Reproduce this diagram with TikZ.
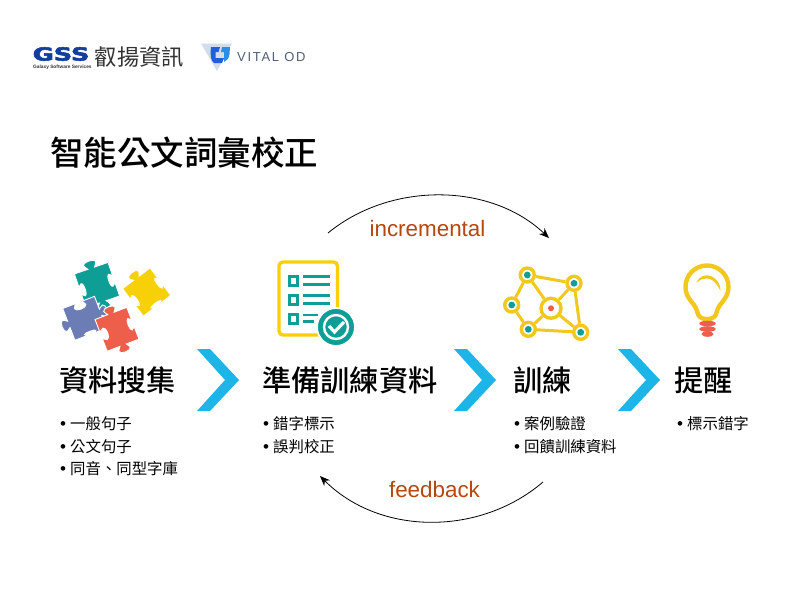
\documentclass[tikz,border=0pt]{standalone}
\usepackage{fontspec}
\setmainfont{Liberation Sans}
\newfontfamily\cjk{Noto Sans CJK TC}
\newfontfamily\cjkm{Noto Sans CJK TC Medium}
\newfontfamily\gssfont[FakeBold=3]{DejaVu Sans Bold}
\usetikzlibrary{arrows.meta}
\definecolor{pteal}{HTML}{0F9E96}
\definecolor{pyel}{HTML}{F7D008}
\definecolor{pblue}{HTML}{6C7DB5}
\definecolor{pred}{HTML}{EE5F4B}
\definecolor{iyel}{HTML}{F2C81E}
\definecolor{chev}{HTML}{1DB4E8}
\definecolor{lab}{HTML}{B5480F}
\definecolor{gssb}{HTML}{123F9C}
\definecolor{vgray}{HTML}{4F5F78}
\definecolor{vtri}{HTML}{D3DCEA}
\definecolor{vblue}{HTML}{1F5FE0}
\definecolor{vcyan}{HTML}{2B8FE8}
\newcommand{\pz}[9]{%
 \fill[#4,draw=white,line width=.9pt,shift={(#1,#2)},rotate=#3,scale=#9]
 (-1,-1) -- (-.2,-1) .. controls (-.2,{-1-.12*#5}) and (-.36,{-1-.18*#5}) .. (-.36,{-1-.36*#5}) .. controls (-.36,{-1-.52*#5}) and (-.18,{-1-.6*#5}) .. (0,{-1-.6*#5}) .. controls (.18,{-1-.6*#5}) and (.36,{-1-.52*#5}) .. (.36,{-1-.36*#5}) .. controls (.36,{-1-.18*#5}) and (.2,{-1-.12*#5}) .. (.2,-1) -- (1,-1)
 -- (1,-.2) .. controls ({1+.12*#6},-.2) and ({1+.18*#6},-.36) .. ({1+.36*#6},-.36) .. controls ({1+.52*#6},-.36) and ({1+.6*#6},-.18) .. ({1+.6*#6},0) .. controls ({1+.6*#6},.18) and ({1+.52*#6},.36) .. ({1+.36*#6},.36) .. controls ({1+.18*#6},.36) and ({1+.12*#6},.2) .. (1,.2) -- (1,1)
 -- (.2,1) .. controls (.2,{1+.12*#7}) and (.36,{1+.18*#7}) .. (.36,{1+.36*#7}) .. controls (.36,{1+.52*#7}) and (.18,{1+.6*#7}) .. (0,{1+.6*#7}) .. controls (-.18,{1+.6*#7}) and (-.36,{1+.52*#7}) .. (-.36,{1+.36*#7}) .. controls (-.36,{1+.18*#7}) and (-.2,{1+.12*#7}) .. (-.2,1) -- (-1,1)
 -- (-1,.2) .. controls ({-1-.12*#8},.2) and ({-1-.18*#8},.36) .. ({-1-.36*#8},.36) .. controls ({-1-.52*#8},.36) and ({-1-.6*#8},.18) .. ({-1-.6*#8},0) .. controls ({-1-.6*#8},-.18) and ({-1-.52*#8},-.36) .. ({-1-.36*#8},-.36) .. controls ({-1-.18*#8},-.36) and ({-1-.12*#8},-.2) .. (-1,-.2) -- cycle;}
\newcommand{\chv}[1]{\fill[chev,shift={(#1,0)}] (197,349) -- (210,349) -- (239,380) -- (210,411) -- (197,411) -- (225,380) -- cycle;}
\newcommand{\bul}{\makebox[11pt][l]{\rmfamily\fontsize{17}{15}\selectfont\hspace{.8pt}\textbullet}}
\tikzset{
 x=1pt,y=-1pt,
 titlet/.style={anchor=west,inner sep=0pt,font=\cjkm\fontsize{33.5}{34}\selectfont},
 headt/.style={anchor=west,inner sep=0pt,font=\cjkm\fontsize{29.2}{30}\selectfont},
 itemt/.style={anchor=west,inner sep=0pt,font=\cjk\fontsize{15.4}{16}\selectfont},
 logot/.style={anchor=west,inner sep=0pt,font=\cjk\fontsize{22.3}{23}\selectfont,text=black!80},
 labt/.style={inner sep=0pt,text=lab,font=\fontsize{22.4}{23}\selectfont},
 arcl/.style={line width=.8pt,-{Stealth[length=10pt,width=8pt]}},
 nring/.style={circle,draw=iyel,line width=3.4pt,fill=white,minimum size=14pt,inner sep=0pt},
 cring/.style={circle,draw=iyel,line width=3.4pt,fill=white,minimum size=20pt,inner sep=0pt},
 nedge/.style={draw=iyel,line width=3pt},
 tealbar/.style={draw=pteal,line width=2.8pt},
 tbox/.style={draw=pteal,line width=3pt},
}
\begin{document}
\begin{tikzpicture}
\useasboundingbox (0,0) rectangle (800,600);
\fill[white] (0,0) rectangle (800,600);
% logos
\node[anchor=west,inner sep=0pt,text=gssb,xscale=1.42,font=\gssfont\fontsize{18}{16}\selectfont] (gss) at (32.5,54) {GSS};
\node[anchor=west,inner sep=0pt,text=black!80,font=\bfseries\fontsize{4.8}{5}\selectfont] (gsstag) at (33,67) {Galaxy Software Services};
\node[logot] (gssname) at (94.5,57) {叡揚資訊};
\fill[vtri] (201,43.5) -- (232,43.5) -- (217,71) -- cycle;
\fill[vblue] (211,47) -- (220,47) -- (218.5,52) -- (215.5,52) -- (215.5,58) -- (224,58) -- (222,63) -- (214,63) .. controls (211,61) and (210,56) .. (211,47) -- cycle;
\fill[vcyan] (222,47) -- (230,47) -- (229.5,54) .. controls (229,58) and (227,61) .. (224,62) -- (224,52) -- (221,52) -- cycle;
\node[anchor=west,inner sep=0pt,text=vgray,font=\fontsize{13}{13}\selectfont] (vital) at (237,57.5) {\addfontfeature{LetterSpace=13}VITAL OD};
% title
\node[titlet] (title) at (50,153) {智能公文詞彙校正};
% puzzle
\pz{97}{285}{19}{pteal}{.7}{-.5}{.7}{-.5}{17.8}
\pz{146.7}{292}{37}{pyel}{.7}{-.4}{-.3}{-.5}{17.2}
\pz{84.7}{318.3}{21}{pblue}{-.7}{.7}{-.3}{.7}{17}
\pz{117}{329.3}{21}{pred}{.7}{-.5}{.7}{-.7}{17}
% checklist
\draw[pyel,line width=3.4pt,rounded corners=4pt] (325,335) -- (279,335) -- (279,262) -- (337.5,262) -- (337.5,310);
\foreach \yy in {276.5,295,314}{
 \draw[tbox] (289.5,\yy) rectangle (297.5,\yy+9);
}
\foreach \yy/\xe in {276.7/330,284.3/330,295.7/330,303.3/330,315/318,321.7/314}{
 \draw[tealbar] (303,\yy) -- (\xe,\yy);
}
\fill[pteal,draw=white,line width=1.8pt] (336,327) circle (19);
\draw[white,line width=2.4pt] (336,327) circle (12);
\draw[white,line width=3.2pt] (329,326) -- (334.5,332) -- (344,322);
% network
\node[nring] (n1) at (527.3,275) {};
\node[nring] (n2) at (574,283.3) {};
\node[cring] (nc) at (551,308.3) {};
\node[nring] (n4) at (511.7,305) {};
\node[nring] (n5) at (528.3,329.3) {};
\node[nring] (n6) at (580.7,332.3) {};
\foreach \a/\b in {n1/n2,n1/nc,n1/n4,n4/n5,n5/nc,n5/n6,n6/nc,n2/nc,n2/n6}{\draw[nedge] (\a) -- (\b);}
\foreach \a in {n1,n2,n4,n5,n6}{\fill[pteal] (\a) circle (3.4);}
\fill[pred] (nc) circle (3);
% bulb
\draw[iyel,line width=4.4pt,line join=round] (707,319) .. controls (700,319) and (698,316) .. (697,311) .. controls (695,303) and (685.5,299) .. (685.5,287) .. controls (685.5,275) and (695,265.5) .. (707,265.5) .. controls (719,265.5) and (728.5,275) .. (728.5,287) .. controls (728.5,299) and (719,303) .. (717,311) .. controls (716,316) and (714,319) .. (707,319) -- cycle;
\fill[iyel] (696.5,283) .. controls (699,275) and (707,274) .. (712,276.5) .. controls (717,279) and (721,285) .. (720.5,291) .. controls (718,285) and (714,280.5) .. (710,279) .. controls (705,277.5) and (700,279) .. (696.5,283) -- cycle;
\foreach \yy/\rx in {323.5/8.2,329/8.2,334/6}{\fill[pred] (707.5,\yy) ellipse (\rx pt and 2.8pt);}
% chevrons
\chv{0}\chv{257}\chv{421}
% headings
\node[headt] (h1) at (59,380) {資料搜集};
\node[headt] (h2) at (262,380) {準備訓練資料};
\node[headt] (h3) at (513.5,380) {訓練};
\node[headt] (h4) at (674.5,380) {提醒};
% items
\node[itemt] (a1) at (59,424) {\bul 一般句子};
\node[itemt] (a2) at (59,446.5) {\bul 公文句子};
\node[itemt] (a3) at (59,469) {\bul 同音、同型字庫};
\node[itemt] (b1) at (262,424) {\bul 錯字標示};
\node[itemt] (b2) at (262,446.5) {\bul 誤判校正};
\node[itemt] (c1) at (513,424) {\bul 案例驗證};
\node[itemt] (c2) at (513,446.5) {\bul 回饋訓練資料};
\node[itemt] (d1) at (676,424) {\bul 標示錯字};
% feedback loops
\coordinate (ta) at (328,233);
\coordinate (tb) at (549,238);
\coordinate (ba) at (543,482);
\coordinate (bb) at (320,476);
\draw[arcl] (ta) .. controls (390,182) and (490,182) .. (tb);
\draw[arcl] (ba) .. controls (480,536) and (380,536) .. (bb);
\node[labt] (inc) at (427.5,228) {incremental};
\node[labt] (fb) at (434.5,489) {feedback};
\end{tikzpicture}
\end{document}
